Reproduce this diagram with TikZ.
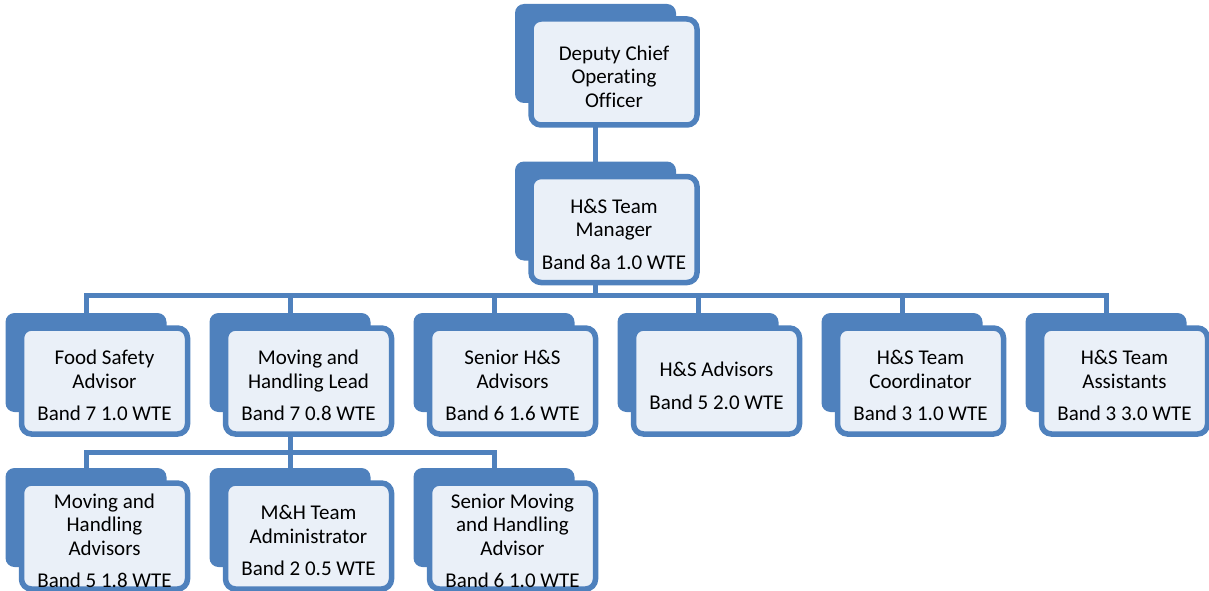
\documentclass[tikz,border=0pt]{standalone}
\usepackage{fontspec}
\setmainfont{Carlito}[Ligatures=NoCommon]
\usetikzlibrary{backgrounds}
\definecolor{orgblue}{HTML}{4F81BD}
\definecolor{orgfill}{HTML}{EAF0F8}
\newcommand\topstrut{\rule{0pt}{24pt}}
\begin{document}
\begin{tikzpicture}[x=1pt, y=-1pt,
    backbox/.style={fill=orgblue, rounded corners=9pt, minimum width=161pt, minimum height=99pt, inner sep=0pt},
    card/.style={draw=orgblue, line width=5.5pt, fill=orgfill, rounded corners=10pt, minimum width=166pt, minimum height=106pt, inner sep=0pt, align=center, font=\fontsize{21}{23.5}\selectfont},
    link/.style={draw=orgblue, line width=5pt}
]
\useasboundingbox (0,0) rectangle (1209,591);
\node[backbox] (dcoob) at (595.5,53.5) {};
\node[card] (dcoo) at (614,72) {\topstrut Deputy Chief\\Operating\\Officer};
\node[backbox] (mgrb) at (595.5,211) {};
\node[card] (mgr) at (614,229.5) {\topstrut H\&S Team\\Manager\\[9pt]Band 8a 1.0 WTE};

\node[backbox] (fsab) at (86,362.5) {};
\node[card] (fsa) at (104.5,381) {\topstrut Food Safety\\Advisor\\[9pt]Band 7 1.0 WTE};
\node[backbox] (mhlb) at (290,362.5) {};
\node[card] (mhl) at (308.5,381) {\topstrut Moving and\\Handling Lead\\[9pt]Band 7 0.8 WTE};
\node[backbox] (shsb) at (494,362.5) {};
\node[card] (shs) at (512.5,381) {\topstrut Senior H\&S\\Advisors\\[9pt]Band 6 1.6 WTE};
\node[backbox] (hsab) at (698,362.5) {};
\node[card] (hsa) at (716.5,381) {\topstrut H\&S Advisors\\[9pt]Band 5 2.0 WTE};
\node[backbox] (tcb) at (902,362.5) {};
\node[card] (tc) at (920.5,381) {\topstrut H\&S Team\\Coordinator\\[9pt]Band 3 1.0 WTE};
\node[backbox] (tab) at (1106,362.5) {};
\node[card] (ta) at (1124.5,381) {\topstrut H\&S Team\\Assistants\\[9pt]Band 3 3.0 WTE};

\node[backbox] (mhab) at (86,517.5) {};
\node[card] (mha) at (104.5,536) {\topstrut Moving and\\Handling\\Advisors\\[9pt]Band 5 1.8 WTE};
\node[backbox] (mhtb) at (290,517.5) {};
\node[card] (mht) at (308.5,536) {\topstrut M\&H Team\\Administrator\\[9pt]Band 2 0.5 WTE};
\node[backbox] (smhb) at (494,517.5) {};
\node[card] (smh) at (512.5,536) {\topstrut Senior Moving\\and Handling\\Advisor\\[9pt]Band 6 1.0 WTE};

\coordinate (bus) at (0,295);
\coordinate (subbus) at (0,452);
\begin{scope}[on background layer]
\draw[link] (dcoob.center) -- (mgrb.center);
\foreach \n in {fsab,mhlb,shsb,hsab,tcb,tab}
    \draw[link] (mgrb.center) |- (bus -| \n.center) -- (\n.center);
\foreach \n in {mhab,mhtb,smhb}
    \draw[link] (mhlb.center) |- (subbus -| \n.center) -- (\n.center);
\end{scope}
\end{tikzpicture}
\end{document}
